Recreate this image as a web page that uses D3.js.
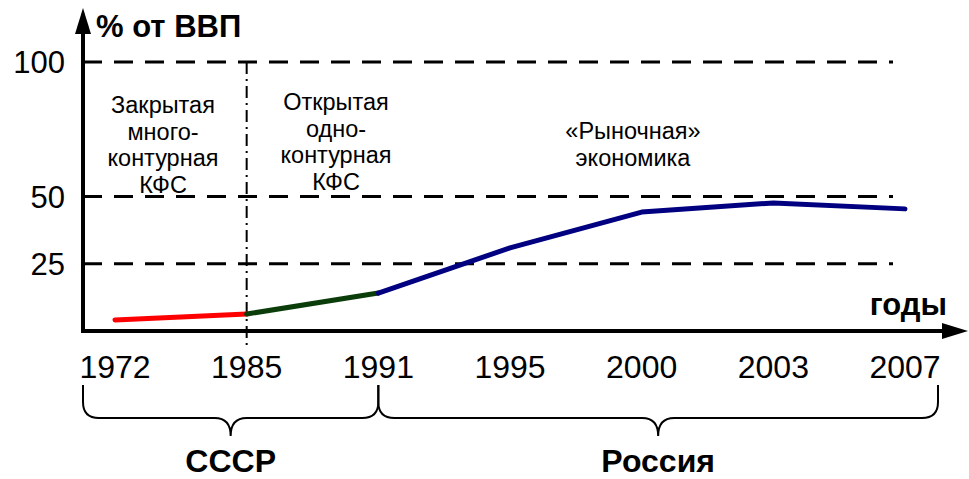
<!DOCTYPE html>
<html>
<head>
<meta charset="utf-8">
<script src="https://cdn.jsdelivr.net/npm/d3@7"></script>
<style>
  body { margin: 0; background: #fff; }
  text { font-family: Arial, "Liberation Sans", sans-serif; fill: #000; }
</style>
</head>
<body>
<svg></svg>
<script>
// data
const years = ["1972", "1985", "1991", "1995", "2000", "2003", "2007"];
const share = [4.1, 6.3, 14.1, 30.9, 44.2, 47.6, 45.4];
const gridValues = [25, 50, 100];
const segments = [
  { from: 0, to: 1, color: "#ff0000" },
  { from: 1, to: 2, color: "#0b3d0b" },
  { from: 2, to: 6, color: "#000080" }
];
const periods = [
  { lines: ["Закрытая", "много-", "контурная", "КФС"], x: 163, y: 105 },
  { lines: ["Открытая", "одно-", "контурная", "КФС"], x: 336, y: 102 },
  { lines: ["«Рыночная»", "экономика"], x: 633, y: 131 }
];

const w = 969, h = 479;
const svg = d3.select("svg").attr("width", w).attr("height", h);

const x0 = 83;
const x = d3.scalePoint().domain(years).range([115, 905]);
const y = d3.scaleLinear().domain([0, 100]).range([331, 62]);

// dashed grid
svg.append("g")
  .selectAll("line")
  .data(gridValues)
  .enter()
  .append("line")
  .attr("x1", x0).attr("x2", 893)
  .attr("y1", d => y(d)).attr("y2", d => y(d))
  .attr("stroke", "#000")
  .attr("stroke-width", 3)
  .attr("stroke-dasharray", "19 12");

// y tick labels
svg.append("g")
  .selectAll("text")
  .data(gridValues)
  .enter()
  .append("text")
  .attr("x", 65)
  .attr("y", d => y(d) + 11)
  .attr("text-anchor", "end")
  .attr("font-size", 31)
  .text(d => d);

// dash-dot divider at 1985
svg.append("line")
  .attr("x1", x("1985")).attr("x2", x("1985"))
  .attr("y1", y(100)).attr("y2", 346)
  .attr("stroke", "#000")
  .attr("stroke-width", 2)
  .attr("stroke-dasharray", "12 5 2 5");

// period labels
periods.forEach(p => {
  const t = svg.append("text")
    .attr("text-anchor", "middle")
    .attr("font-size", 23.5);
  p.lines.forEach((l, i) => {
    t.append("tspan").attr("x", p.x).attr("y", p.y + 8 + i * 26.5).text(l);
  });
});

// data line, coloured by period
const line = d3.line()
  .x(i => x(years[i]))
  .y(i => y(share[i]));

svg.append("g")
  .selectAll("path")
  .data(segments)
  .enter()
  .append("path")
  .attr("d", s => line(d3.range(s.from, s.to + 1)))
  .attr("fill", "none")
  .attr("stroke", s => s.color)
  .attr("stroke-width", 5)
  .attr("stroke-linecap", "round")
  .attr("stroke-linejoin", "round");

// axes with arrows
svg.append("line")
  .attr("x1", x0).attr("x2", x0)
  .attr("y1", y(0) + 2).attr("y2", 30)
  .attr("stroke", "#000").attr("stroke-width", 4);
svg.append("path")
  .attr("d", `M${x0},8 L${x0 - 8},34 L${x0 + 8},34 Z`)
  .attr("fill", "#000");

svg.append("line")
  .attr("x1", x0 - 2).attr("x2", 948)
  .attr("y1", y(0)).attr("y2", y(0))
  .attr("stroke", "#000").attr("stroke-width", 4);
svg.append("path")
  .attr("d", `M968,${y(0)} L942,${y(0) - 8} L942,${y(0) + 8} Z`)
  .attr("fill", "#000");

// x tick labels
svg.append("g")
  .selectAll("text")
  .data(years)
  .enter()
  .append("text")
  .attr("x", d => x(d))
  .attr("y", 378)
  .attr("text-anchor", "middle")
  .attr("font-size", 32)
  .text(d => d);

// axis titles
svg.append("text")
  .attr("x", 96).attr("y", 37)
  .attr("font-size", 31).attr("font-weight", "bold")
  .text("% от ВВП");
svg.append("text")
  .attr("x", 947).attr("y", 315)
  .attr("text-anchor", "end")
  .attr("font-size", 31).attr("font-weight", "bold")
  .text("годы");

// braces
function brace(a, b, top, mid, tip) {
  const c = (a + b) / 2, r = 16;
  return `M${a},${top} L${a},${mid - r} Q${a},${mid} ${a + r},${mid}` +
    ` L${c - r},${mid} Q${c},${mid} ${c},${tip} Q${c},${mid} ${c + r},${mid}` +
    ` L${b - r},${mid} Q${b},${mid} ${b},${mid - r} L${b},${top}`;
}
const braces = [
  { a: x0, b: x("1991"), label: "СССР" },
  { a: x("1991"), b: 938, label: "Россия" }
];
svg.append("g")
  .selectAll("path")
  .data(braces)
  .enter()
  .append("path")
  .attr("d", d => brace(d.a, d.b, 385, 418, 436))
  .attr("fill", "none")
  .attr("stroke", "#000")
  .attr("stroke-width", 2);
svg.append("g")
  .selectAll("text")
  .data(braces)
  .enter()
  .append("text")
  .attr("x", d => (d.a + d.b) / 2)
  .attr("y", 472)
  .attr("text-anchor", "middle")
  .attr("font-size", 32).attr("font-weight", "bold")
  .text(d => d.label);
</script>
</body>
</html>
